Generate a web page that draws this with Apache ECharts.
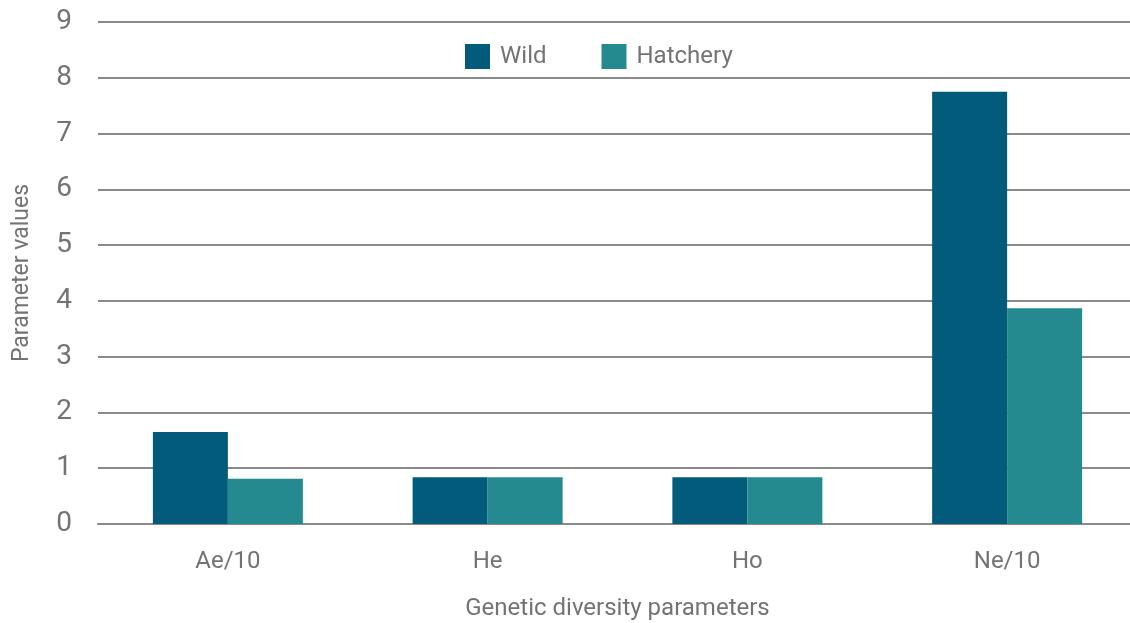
<!DOCTYPE html>
<html>
<head>
<meta charset="utf-8">
<script src="https://cdn.jsdelivr.net/npm/echarts@6/dist/echarts.min.js"></script>
<style>html,body{margin:0;padding:0;background:#fff;overflow:hidden;width:1130px;height:623px}#c{width:1142px;height:623px}</style>
</head>
<body>
<div id="c"></div>
<script>
const categories = ['Ae/10', 'He', 'Ho', 'Ne/10'];
const wild = [1.65, 0.84, 0.84, 7.75];
const hatchery = [0.81, 0.84, 0.84, 3.87];
const seriesNames = ['Wild', 'Hatchery'];
const yTicks = { min: 0, max: 9, interval: 1 };

const FONT = 'Roboto';
const TXT = '#737373';
const chart = echarts.init(document.getElementById('c'));
chart.setOption({
  animation: false,
  textStyle: { fontFamily: FONT },
  legend: {
    left: 460, top: 39,
    itemWidth: 25, itemHeight: 25, itemGap: 55,
    icon: 'rect',
    textStyle: { fontSize: 24, color: TXT, fontFamily: FONT, padding: [0, 0, 0, 5] },
    data: seriesNames
  },
  grid: { left: 98, top: 22, width: 1039, bottom: 99, containLabel: false, outerBoundsMode: 'none' },
  xAxis: {
    type: 'category',
    data: categories,
    axisTick: { show: false },
    axisLine: { lineStyle: { color: '#8a8a8a', width: 2 } },
    axisLabel: { fontSize: 24, color: TXT, margin: 26, fontFamily: FONT },
    name: 'Genetic diversity parameters',
    nameLocation: 'middle',
    nameGap: 73,
    nameTextStyle: { fontSize: 24, color: TXT, fontFamily: FONT }
  },
  yAxis: {
    type: 'value',
    min: yTicks.min, max: yTicks.max, interval: yTicks.interval,
    axisLine: { show: false },
    axisTick: { show: false },
    axisLabel: { fontSize: 28, color: TXT, margin: 26, fontFamily: FONT },
    splitLine: { lineStyle: { color: '#8a8a8a', width: 2 } },
    name: 'Parameter values',
    nameLocation: 'middle',
    nameGap: 64,
    nameTextStyle: { fontSize: 23, color: TXT, fontFamily: FONT }
  },
  series: [
    { name: seriesNames[0], type: 'bar', data: wild, barWidth: 75, barGap: '0%',
      itemStyle: { color: '#025b7b' } },
    { name: seriesNames[1], type: 'bar', data: hatchery, barWidth: 75, barGap: '0%',
      itemStyle: { color: '#248a8f' } }
  ]
});
</script>
</body>
</html>
